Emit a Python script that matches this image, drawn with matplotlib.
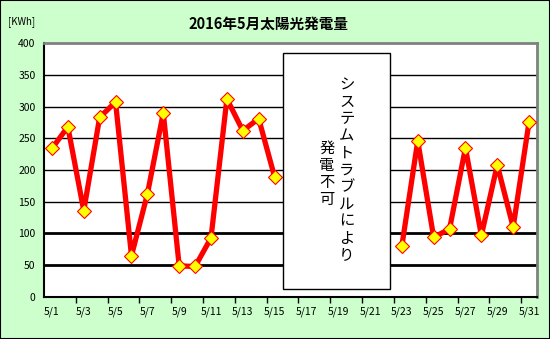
import matplotlib.pyplot as plt
from matplotlib.patches import Rectangle
import numpy as np

plt.rcParams['font.family'] = ['Noto Sans CJK JP', 'DejaVu Sans']

days = [f"5/{d}" for d in range(1, 32)]
kwh = [234, 268, 136, 283, 307, 65, 162, 290, 49, 48, 93, 312, 262, 281, 189,
       None, None, None, None, None, None, None,
       80, 246, 94, 107, 235, 97, 208, 110, 276]
yticks = [0, 50, 100, 150, 200, 250, 300, 350, 400]
title = "2016年5月太陽光発電量"
note_right = "システムトラブルにより"
note_left = "発電不可"

vals = np.array([np.nan if v is None else v for v in kwh], dtype=float)
xs = np.arange(len(days))

fig = plt.figure(figsize=(5.5, 3.39), dpi=100, facecolor='#ccffcc')
fig.patches.append(Rectangle((0, 0), 1, 1, transform=fig.transFigure,
                             fill=False, edgecolor='black', linewidth=1.5))
ax = fig.add_axes([0.08, 0.124, 0.8964, 0.749])
ax.set_facecolor('white')

# 50 and 100 gridlines come out thicker in the original
for y in yticks[1:-1]:
    ax.axhline(y, color='black', linewidth=2.0 if y in (50, 100) else 1.0, zorder=1)

ax.plot(xs, vals, color='#ff0000', linewidth=3.8, zorder=3,
        marker='D', markersize=7.2, markerfacecolor='#ffff00',
        markeredgecolor='#ff0000', markeredgewidth=0.8)

ax.set_xlim(-0.5, len(days) - 0.5)
ax.set_ylim(0, 400)
ax.set_yticks(yticks)
ax.set_xticks(xs[::2])
ax.set_xticklabels(days[::2])
ax.set_xticks(np.arange(1.5, len(days) - 1, 2), minor=True)
ax.tick_params(axis='x', which='major', length=0, labelsize=7.5, pad=7)
ax.tick_params(axis='x', which='minor', length=4, width=1, direction='out')
ax.tick_params(axis='y', length=0, labelsize=7.5, pad=6)

for side in ['top', 'right']:
    ax.spines[side].set_color('#808080')
    ax.spines[side].set_linewidth(2)
for side in ['left', 'bottom']:
    ax.spines[side].set_color('black')
    ax.spines[side].set_linewidth(1.5)

box = Rectangle((0.484, 0.032), 0.217, 0.93, transform=ax.transAxes,
                facecolor='white', edgecolor='black', linewidth=1, zorder=4)
ax.add_patch(box)
ax.text(0.614, 0.5, "\n".join(note_right), transform=ax.transAxes,
        ha='center', va='center', fontsize=11, linespacing=1.0, zorder=5)
ax.text(0.574, 0.485, "\n".join(note_left), transform=ax.transAxes,
        ha='center', va='center', fontsize=11, linespacing=1.0, zorder=5)

fig.text(0.489, 0.93, title, ha='center', va='center', fontsize=10.5, fontweight='bold')
fig.text(0.015, 0.935, "[KWh]", ha='left', va='center', fontsize=7)

fig.savefig('out.png', dpi=100, facecolor=fig.get_facecolor())
